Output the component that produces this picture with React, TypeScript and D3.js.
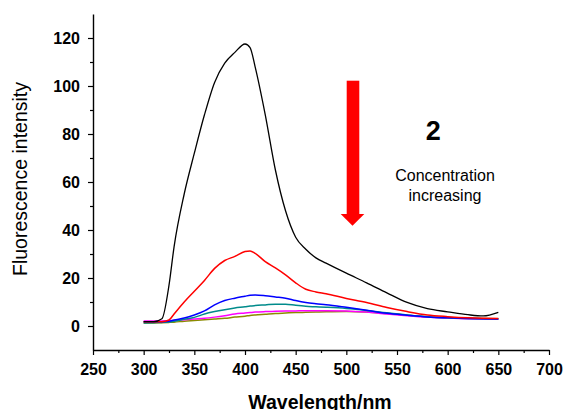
import React, { useEffect, useRef } from "react";
import * as d3 from "d3";

const wavelengths = [300, 310, 318, 325, 330, 340, 350, 360, 370, 380, 390, 400, 405, 410, 420, 430, 440, 450, 460, 470, 480, 500, 520, 540, 560, 580, 600, 620, 635, 650];

const blackSeries = [1.8, 1.8, 3, 17, 33, 55, 72, 88, 101.5, 109.5, 114, 117.5, 116, 108, 88, 65, 48, 37, 32, 28.4, 26.2, 22, 18, 13.8, 9.8, 7.2, 5.9, 4.7, 4.2, 5.7];
const redSeries = [1.8, 1.8, 1.8, 2.5, 5, 10, 14.5, 19, 24, 27.3, 29, 31, 31.3, 30.3, 26.8, 24.2, 21.3, 18, 15.3, 14.2, 13.4, 11.5, 9.8, 7.7, 6, 4.6, 3.9, 3.4, 3.2, 3.1];
const blueSeries = [1.8, 1.8, 1.8, 2, 2.5, 3.3, 4.6, 6.3, 8.8, 10.6, 11.6, 12.4, 12.8, 12.9, 12.6, 12.1, 11.6, 10.6, 9.8, 9.3, 8.9, 7.8, 6.6, 5.3, 4.5, 3.8, 3.4, 3.1, 3.0, 2.9];
const tealSeries = [1.3, 1.4, 1.5, 1.7, 2, 2.8, 3.6, 5, 6, 6.8, 7.5, 8, 8.3, 8.5, 8.8, 9.1, 9.1, 8.6, 8.2, 8.0, 7.8, 7.3, 6.5, 5.5, 4.6, 3.9, 3.4, 3.1, 3.0, 2.9];
const magentaSeries = [2.1, 2.1, 2.1, 2.2, 2.3, 2.6, 2.9, 3.2, 3.7, 4.3, 5, 5.4, 5.6, 5.8, 6, 6.1, 6.2, 6.3, 6.4, 6.4, 6.4, 6.3, 5.8, 5.0, 4.3, 3.7, 3.3, 3.0, 2.9, 2.8];
const oliveSeries = [1.3, 1.3, 1.4, 1.5, 1.6, 2.0, 2.3, 2.6, 2.9, 3.2, 3.7, 4.1, 4.4, 4.6, 4.9, 5.2, 5.4, 5.6, 5.7, 5.8, 5.9, 6.0, 5.8, 5.2, 4.5, 3.9, 3.5, 3.2, 3.1, 3.0];

const seriesList = [
  { name: "olive", values: oliveSeries, color: "#8b8b00" },
  { name: "magenta", values: magentaSeries, color: "#ff00ff" },
  { name: "teal", values: tealSeries, color: "#008b8b" },
  { name: "blue", values: blueSeries, color: "#0000ff" },
  { name: "red", values: redSeries, color: "#ff0000" },
  { name: "black", values: blackSeries, color: "#000000" },
];

const xMajorTicks = [250, 300, 350, 400, 450, 500, 550, 600, 650, 700];
const xMinorTicks = [275, 325, 375, 425, 475, 525, 575, 625, 675];
const yMajorTicks = [0, 20, 40, 60, 80, 100, 120];
const yMinorTicks = [-10, 10, 30, 50, 70, 90, 110, 130];

const FONT = "Arial, 'Liberation Sans', sans-serif";

export default function App() {
  const ref = useRef<SVGSVGElement | null>(null);

  useEffect(() => {
    const svg = d3.select(ref.current);
    svg.selectAll("*").remove();

    const x = d3.scaleLinear().domain([250, 700]).range([93, 549]);
    const y = d3.scaleLinear().domain([-10, 130]).range([350, 14]);

    // minor ticks
    svg.append("g")
      .attr("transform", "translate(0,350)")
      .call(d3.axisBottom(x).tickValues(xMinorTicks).tickSize(3).tickFormat(() => ""))
      .call((g) => g.select(".domain").remove())
      .call((g) => g.selectAll("line").attr("stroke", "#000").attr("stroke-width", 1.2));
    svg.append("g")
      .attr("transform", "translate(93,0)")
      .call(d3.axisLeft(y).tickValues(yMinorTicks.filter((v) => v > -10 && v < 130)).tickSize(3).tickFormat(() => ""))
      .call((g) => g.select(".domain").remove())
      .call((g) => g.selectAll("line").attr("stroke", "#000").attr("stroke-width", 1.2));

    // major axes
    const gx = svg.append("g")
      .attr("transform", "translate(0,350)")
      .call(d3.axisBottom(x).tickValues(xMajorTicks).tickSize(5).tickSizeOuter(0).tickPadding(9));
    gx.select(".domain").attr("stroke", "#000").attr("stroke-width", 1.4);
    gx.selectAll("line").attr("stroke", "#000").attr("stroke-width", 1.2);
    gx.selectAll("text")
      .attr("font-family", FONT)
      .attr("font-weight", "bold")
      .attr("font-size", 16)
      .attr("fill", "#000");

    const gy = svg.append("g")
      .attr("transform", "translate(93,0)")
      .call(d3.axisLeft(y).tickValues(yMajorTicks).tickSize(5).tickSizeOuter(0).tickPadding(8));
    gy.select(".domain").attr("stroke", "#000").attr("stroke-width", 1.4);
    gy.selectAll("line").attr("stroke", "#000").attr("stroke-width", 1.2);
    gy.selectAll("text")
      .attr("font-family", FONT)
      .attr("font-weight", "bold")
      .attr("font-size", 16)
      .attr("fill", "#000");

    // lines
    const line = d3.line<number>()
      .x((_, i) => x(wavelengths[i]))
      .y((d) => y(d))
      .curve(d3.curveMonotoneX);

    seriesList.forEach((s) => {
      svg.append("path")
        .attr("d", line(s.values) || "")
        .attr("fill", "none")
        .attr("stroke", s.color)
        .attr("stroke-width", s.name === "black" ? 1.3 : 1.5);
    });

    // axis titles
    svg.append("text")
      .attr("x", 320)
      .attr("y", 408.5)
      .attr("text-anchor", "middle")
      .attr("font-family", FONT)
      .attr("font-weight", "bold")
      .attr("font-size", 19.5)
      .text("Wavelength/nm");

    svg.append("text")
      .attr("transform", "translate(27,179) rotate(-90)")
      .attr("text-anchor", "middle")
      .attr("font-family", FONT)
      .attr("font-size", 19.5)
      .text("Fluorescence intensity");

    // arrow
    svg.append("rect")
      .attr("x", 346.7)
      .attr("y", 80.7)
      .attr("width", 12.6)
      .attr("height", 134)
      .attr("fill", "#ff0000");
    svg.append("path")
      .attr("d", "M340.7,214 L364.3,214 L352.5,225.7 Z")
      .attr("fill", "#ff0000");

    // annotations
    svg.append("text")
      .attr("x", 433.3)
      .attr("y", 140)
      .attr("text-anchor", "middle")
      .attr("font-family", FONT)
      .attr("font-weight", "bold")
      .attr("font-size", 27)
      .text("2");
    svg.append("text")
      .attr("x", 445)
      .attr("y", 180.5)
      .attr("text-anchor", "middle")
      .attr("font-family", FONT)
      .attr("font-size", 16)
      .text("Concentration");
    svg.append("text")
      .attr("x", 445)
      .attr("y", 200.5)
      .attr("text-anchor", "middle")
      .attr("font-family", FONT)
      .attr("font-size", 16)
      .text("increasing");
  }, []);

  return (
    <svg
      ref={ref}
      width={565}
      height={410}
      style={{ position: "absolute", left: 0, top: 0, background: "#fff" }}
    />
  );
}
